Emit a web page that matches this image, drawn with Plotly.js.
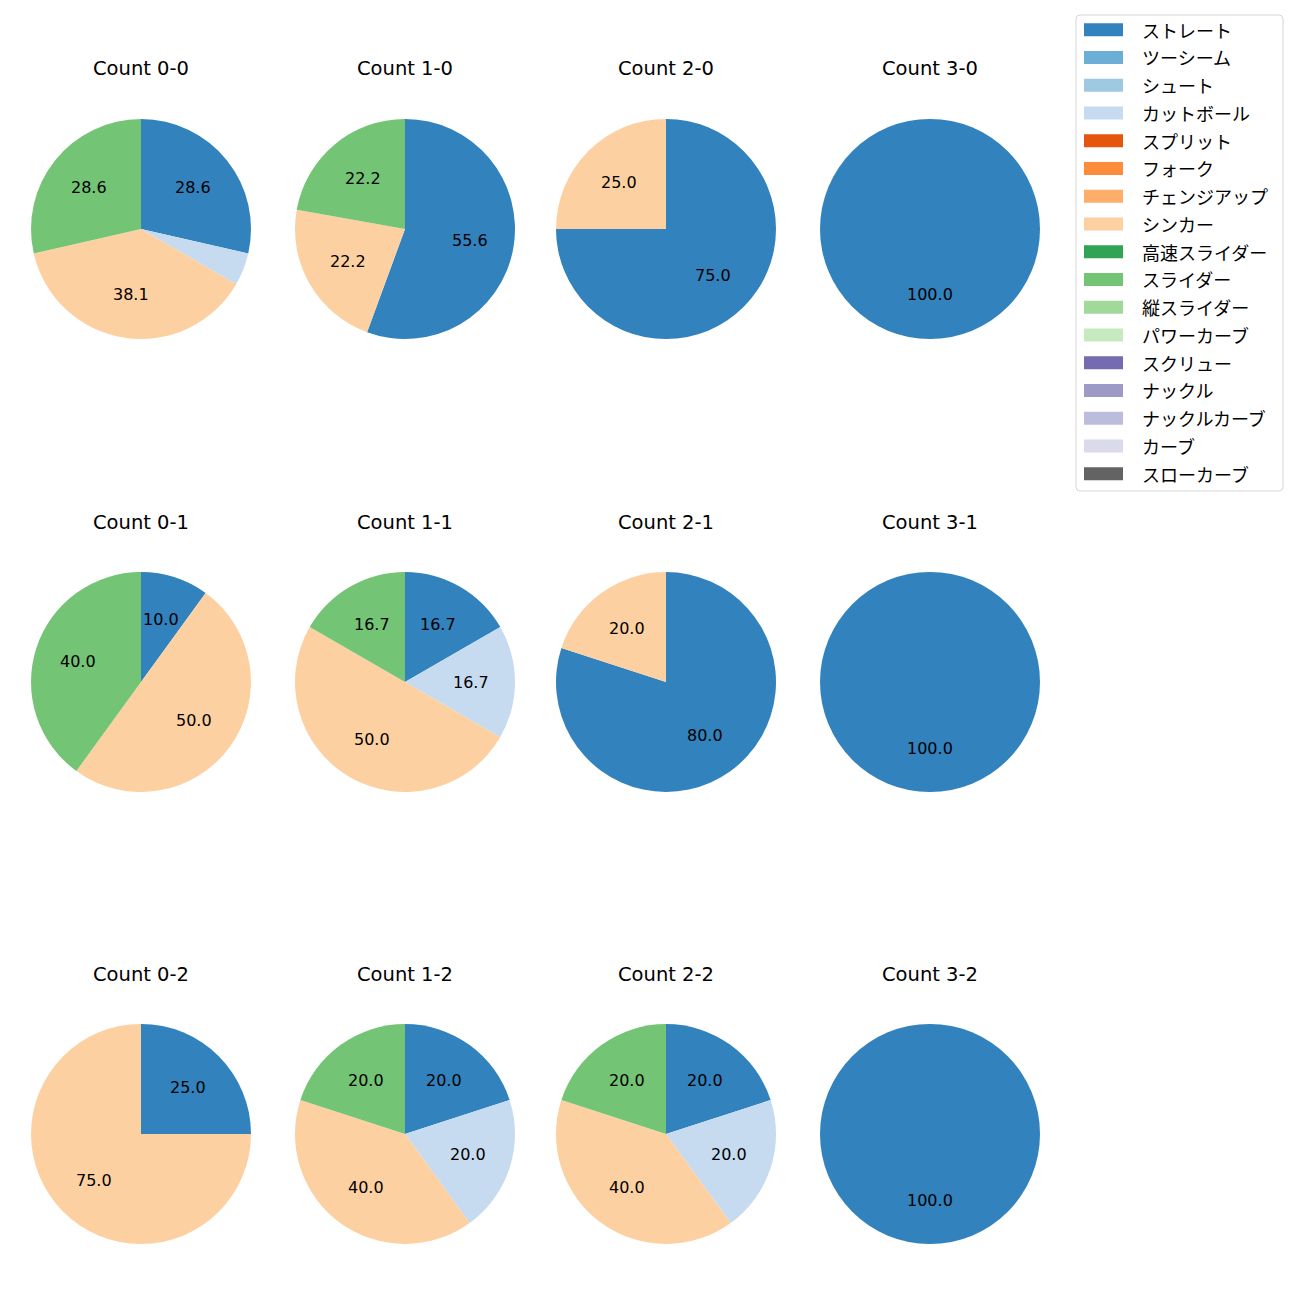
<!DOCTYPE html>
<html>
<head>
<meta charset="utf-8">
<script src="https://cdn.plot.ly/plotly-3.0.1.min.js"></script>
<style>html,body{margin:0;padding:0;background:#fff;}#chart{width:1300px;height:1300px;}</style>
</head>
<body>
<div id="chart"></div>
<script>
// ---- data ----
const pitchTypes = ['ストレート','ツーシーム','シュート','カットボール','スプリット','フォーク','チェンジアップ','シンカー','高速スライダー','スライダー','縦スライダー','パワーカーブ','スクリュー','ナックル','ナックルカーブ','カーブ','スローカーブ'];
const pitchColors = ['#3182bd','#6baed6','#9ecae1','#c6dbef','#e6550d','#fd8d3c','#fdae6b','#fdd0a2','#31a354','#74c476','#a1d99b','#c7e9c0','#756bb1','#9e9ac8','#bcbddc','#dadaeb','#636363'];
const countTitles = ['Count 0-0','Count 1-0','Count 2-0','Count 3-0','Count 0-1','Count 1-1','Count 2-1','Count 3-1','Count 0-2','Count 1-2','Count 2-2','Count 3-2'];
// percentage per count (same order as countTitles)
const straightPct = [28.6, 55.6, 75.0, 100.0, 10.0, 16.7, 80.0, 100.0, 25.0, 20.0, 20.0, 100.0];
const cutterPct   = [4.8, 0, 0, 0, 0, 16.7, 0, 0, 0, 20.0, 20.0, 0];
const sinkerPct   = [38.1, 22.2, 25.0, 0, 50.0, 50.0, 20.0, 0, 75.0, 40.0, 40.0, 0];
const sliderPct   = [28.6, 22.2, 0, 0, 40.0, 16.7, 0, 0, 0, 20.0, 20.0, 0];

// ---- layout geometry (pixels) ----
const W = 1300, H = 1300;
const colX = [141, 405, 666, 930];
const rowY = [229, 682, 1134];
const R = 110;
const px = v => v / W;
const py = v => 1 - v / H;
const FONT = '"DejaVu Sans", "Noto Sans CJK JP", sans-serif';
const FONT_JP = '"Noto Sans CJK JP", "DejaVu Sans", sans-serif';

const traces = [];
const annotations = [];
const shapes = [];

countTitles.forEach((title, i) => {
  const cx = colX[i % 4], cy = rowY[Math.floor(i / 4)];
  const values = pitchTypes.map(() => 0);
  values[0] = straightPct[i];
  values[3] = cutterPct[i];
  values[7] = sinkerPct[i];
  values[9] = sliderPct[i];
  traces.push({
    type: 'pie',
    labels: pitchTypes,
    values: values,
    marker: {colors: pitchColors, line: {width: 0}},
    sort: false,
    direction: 'clockwise',
    rotation: 0,
    textinfo: 'none',
    hoverinfo: 'label+percent',
    showlegend: false,
    domain: {x: [px(cx - R), px(cx + R)], y: [py(cy + R), py(cy - R)]}
  });
  annotations.push({
    text: title, xref: 'paper', yref: 'paper', x: px(cx), y: py(cy - 160),
    xanchor: 'center', yanchor: 'middle', showarrow: false,
    font: {family: FONT, size: 19.5, color: '#000'}
  });
  const total = values.reduce((a, b) => a + b, 0);
  let cum = 0;
  values.forEach(v => {
    if (v <= 0) return;
    const frac = v / total;
    const mid = (90 - 360 * (cum + frac / 2)) * Math.PI / 180;
    cum += frac;
    if (frac * 100 < 5) return;
    annotations.push({
      text: (frac * 100).toFixed(1), xref: 'paper', yref: 'paper',
      x: px(cx + 0.6 * R * Math.cos(mid)), y: py(cy - 0.6 * R * Math.sin(mid)),
      xanchor: 'center', yanchor: 'middle', showarrow: false,
      font: {family: FONT, size: 16, color: '#000'}
    });
  });
});

// ---- legend (drawn from pitchTypes / pitchColors) ----
const lgL = 1076, lgR = 1283, lgT = 15, lgB = 491, rr = 4;
shapes.push({
  type: 'path', xref: 'paper', yref: 'paper',
  path: `M ${px(lgL + rr)} ${py(lgT)} L ${px(lgR - rr)} ${py(lgT)} Q ${px(lgR)} ${py(lgT)} ${px(lgR)} ${py(lgT + rr)} L ${px(lgR)} ${py(lgB - rr)} Q ${px(lgR)} ${py(lgB)} ${px(lgR - rr)} ${py(lgB)} L ${px(lgL + rr)} ${py(lgB)} Q ${px(lgL)} ${py(lgB)} ${px(lgL)} ${py(lgB - rr)} L ${px(lgL)} ${py(lgT + rr)} Q ${px(lgL)} ${py(lgT)} ${px(lgL + rr)} ${py(lgT)} Z`,
  line: {color: '#d6d6d6', width: 1}, fillcolor: 'rgba(255,255,255,0.8)'
});
pitchTypes.forEach((name, k) => {
  const yc = 29.7 + k * 27.75;
  shapes.push({
    type: 'rect', xref: 'paper', yref: 'paper',
    x0: px(1084), x1: px(1123), y0: py(yc - 6.5), y1: py(yc + 6.5),
    fillcolor: pitchColors[k], line: {width: 0}
  });
  annotations.push({
    text: name, xref: 'paper', yref: 'paper', x: px(1140), y: py(yc),
    xanchor: 'left', yanchor: 'middle', showarrow: false,
    font: {family: FONT_JP, size: 18, color: '#000'}
  });
});

const layout = {
  width: W, height: H,
  margin: {l: 0, r: 0, t: 0, b: 0},
  paper_bgcolor: '#fff', plot_bgcolor: '#fff',
  showlegend: false,
  annotations: annotations,
  shapes: shapes,
  font: {family: FONT}
};
Plotly.newPlot('chart', traces, layout, {staticPlot: true});
</script>
</body>
</html>
